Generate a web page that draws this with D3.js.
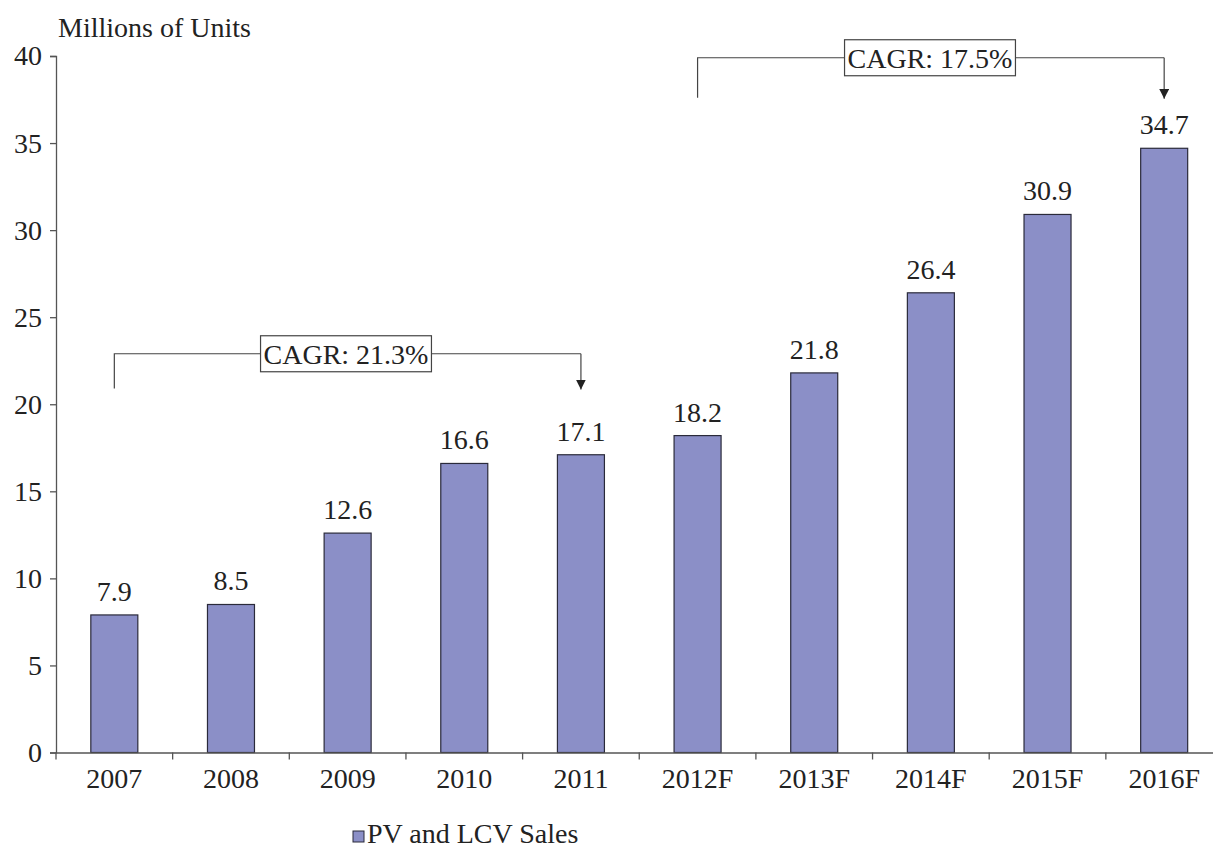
<!DOCTYPE html>
<html><head><meta charset="utf-8">
<script src="https://cdn.jsdelivr.net/npm/d3@7"></script>
<style>body{margin:0;background:#fff}svg{display:block}</style>
</head><body>
<svg id="c" width="1213" height="850"></svg>
<script>
const categories = ["2007","2008","2009","2010","2011","2012F","2013F","2014F","2015F","2016F"];
const sales = [7.9, 8.5, 12.6, 16.6, 17.1, 18.2, 21.8, 26.4, 30.9, 34.7];
const yTicks = [0,5,10,15,20,25,30,35,40];
const seriesName = "PV and LCV Sales";
const yTitle = "Millions of Units";
const cagrs = [
  {label:"CAGR: 21.3%", from:"2007", to:"2011", lineVal:22.9, dropVal:20.9, cx:346},
  {label:"CAGR: 17.5%", from:"2012F", to:"2016F", lineVal:39.9, dropVal:37.6, cx:930}
];

const FONT = "'Liberation Serif', 'Times New Roman', Times, serif";
const svg = d3.select("#c");
const fs = 28;
const xb = d3.scaleBand().domain(categories).range([56, 1222.5]);
const y = d3.scaleLinear().domain([0,40]).range([752.5, 56]);
const color = "#8b8fc7";

// bars
svg.append("g").selectAll("rect").data(sales).join("rect")
  .attr("x",(d,i)=>xb(categories[i]) + xb.bandwidth()/2 - 23.5)
  .attr("width",47)
  .attr("y",d=>y(d)).attr("height",d=>y(0)-y(d))
  .attr("fill",color).attr("stroke","#2a2a3a").attr("stroke-width",1.2);

// value labels
svg.append("g").selectAll("text").data(sales).join("text")
  .attr("x",(d,i)=>xb(categories[i]) + xb.bandwidth()/2)
  .attr("y",d=>y(d)-14)
  .attr("text-anchor","middle").style("font-size",fs+"px").style("font-family",FONT).style("fill","#222")
  .text(d=>d.toFixed(1));

// y axis
const ya = svg.append("g").attr("transform","translate(56,0)")
  .call(d3.axisLeft(y).tickValues(yTicks).tickSize(6).tickPadding(8));
ya.select(".domain").attr("stroke","#555").attr("stroke-width",1.3);
ya.selectAll(".tick line").attr("stroke","#555").attr("stroke-width",1.3);
ya.selectAll(".tick text").style("font-size",fs+"px").style("font-family",FONT).style("fill","#222");

// x axis
const xa = svg.append("g").attr("transform",`translate(0,${y(0)})`)
  .call(d3.axisBottom(xb).tickSize(0).tickPadding(16));
xa.select(".domain").attr("stroke","#555").attr("stroke-width",1.3);
xa.selectAll(".tick text").style("font-size",fs+"px").style("font-family",FONT).style("fill","#222").attr("dy","0.71em");
// category separators
const seps = categories.map(c=>xb(c)).concat([xb(categories[categories.length-1])+xb.bandwidth()]);
svg.append("g").selectAll("line").data(seps).join("line")
  .attr("x1",d=>d).attr("x2",d=>d).attr("y1",y(0)).attr("y2",y(0)+7)
  .attr("stroke","#555").attr("stroke-width",1.3);

// y title
svg.append("text").attr("x",58).attr("y",37).style("font-size",fs+"px").style("font-family",FONT).style("fill","#222").text(yTitle);

// CAGR annotations
const defs = svg.append("defs");
defs.append("marker").attr("id","arr").attr("viewBox","0 0 10 10").attr("refX",10).attr("refY",5)
  .attr("markerWidth",10).attr("markerHeight",10).attr("markerUnits","userSpaceOnUse").attr("orient","auto")
  .append("path").attr("d","M0,0L10,5L0,10z").attr("fill","#222");

cagrs.forEach(c=>{
  const x1 = xb(c.from)+xb.bandwidth()/2, x2 = xb(c.to)+xb.bandwidth()/2;
  const ly = y(c.lineVal), dy = y(c.dropVal);
  const g = svg.append("g");
  g.append("path").attr("d",`M${x1},${dy}V${ly}H${x2}`).attr("fill","none").attr("stroke","#444").attr("stroke-width",1.2);
  g.append("line").attr("x1",x2).attr("x2",x2).attr("y1",ly).attr("y2",dy+1)
    .attr("stroke","#444").attr("stroke-width",1.2).attr("marker-end","url(#arr)");
  const t = g.append("text").attr("x",c.cx).attr("y",ly+10).attr("text-anchor","middle")
    .style("font-size",fs+"px").style("font-family",FONT).style("fill","#222").text(c.label);
  const bb = t.node().getBBox();
  g.insert("rect","text").attr("x",bb.x-3).attr("y",ly-18).attr("width",bb.width+6).attr("height",36)
    .attr("fill","#fff").attr("stroke","#444").attr("stroke-width",1.2);
});

// legend
const lg = svg.append("g").attr("transform","translate(353,831)");
lg.append("rect").attr("width",11).attr("height",11).attr("fill",color).attr("stroke","#2a2a3a").attr("stroke-width",1);
lg.append("text").attr("x",14).attr("y",12).style("font-size",fs+"px").style("font-family",FONT).style("fill","#222").text(seriesName);
</script>
</body></html>
